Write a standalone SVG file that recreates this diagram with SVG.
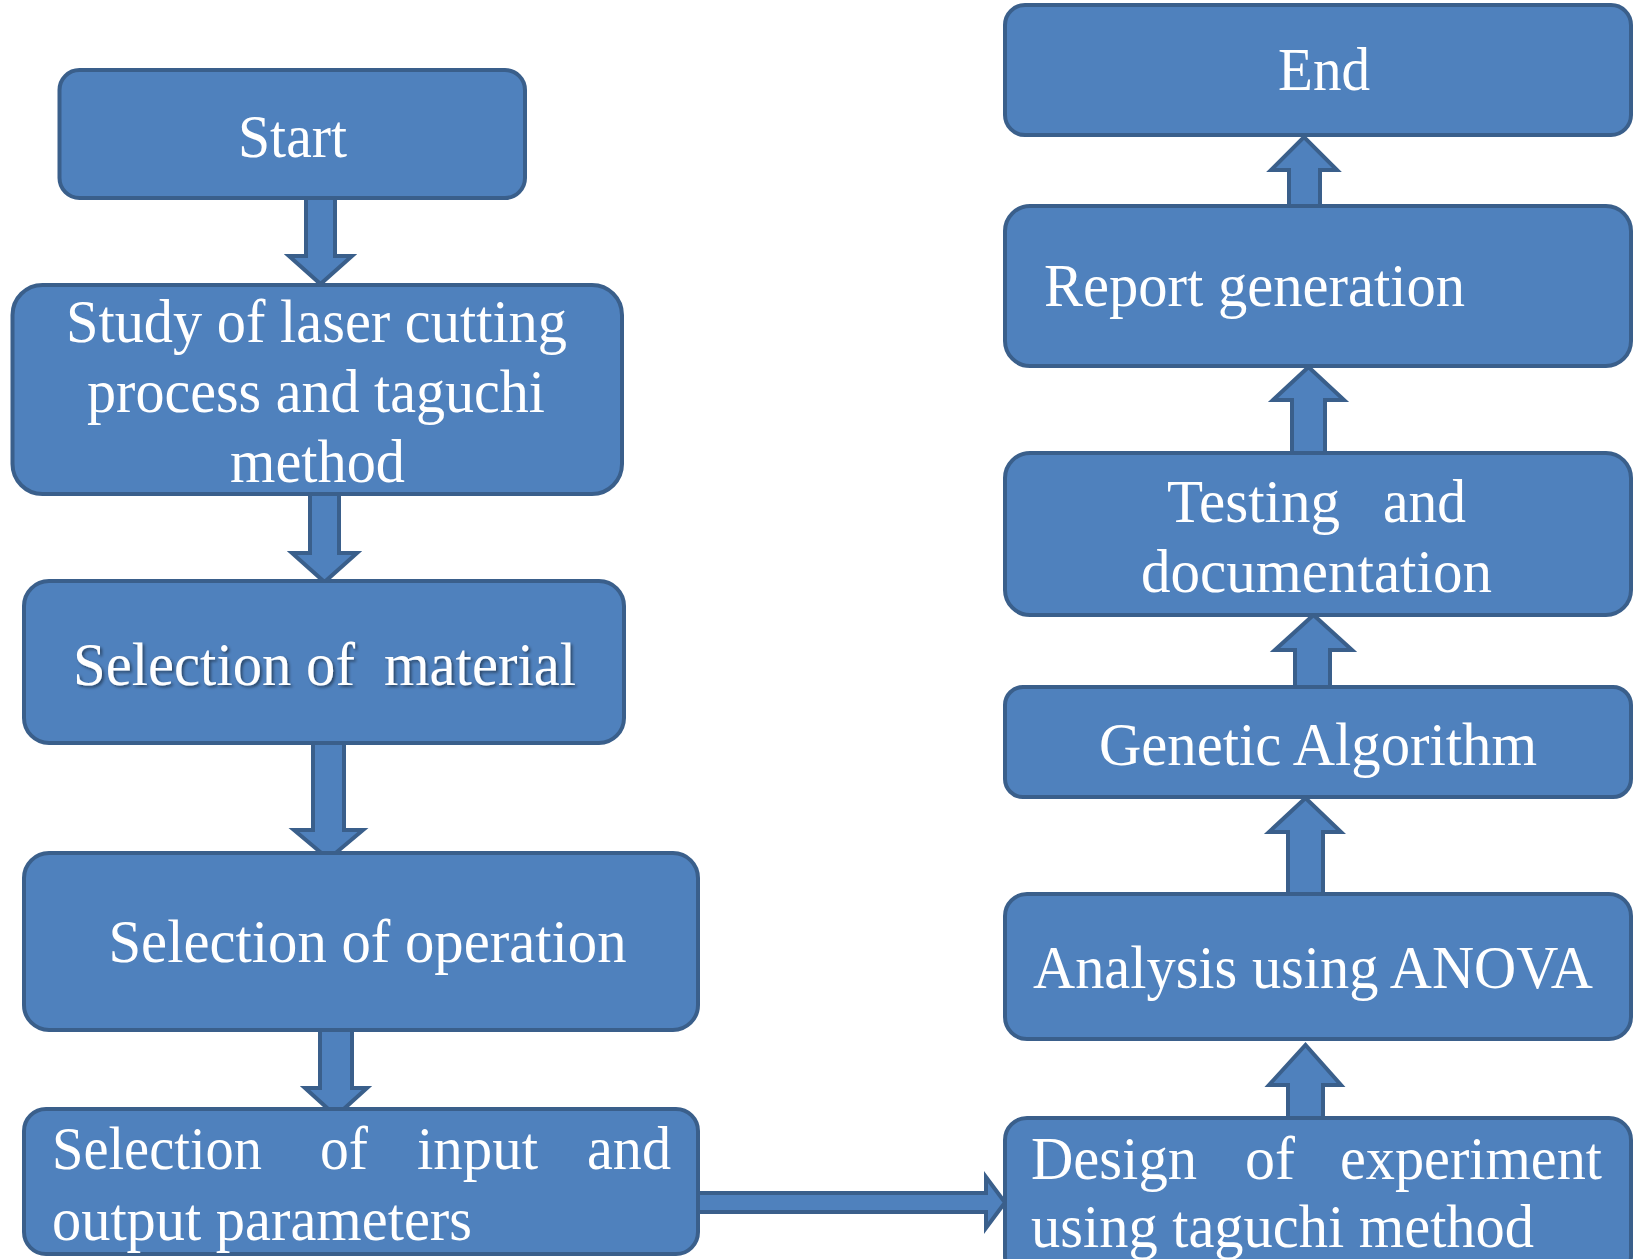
<svg xmlns="http://www.w3.org/2000/svg" width="1636" height="1259" viewBox="0 0 1636 1259">
<defs>
<style>
.box{fill:#4F81BD;stroke:#3A5F8B;stroke-width:4}
.arr{fill:#4F81BD;stroke:#3A5F8B;stroke-width:4;stroke-linejoin:miter}
.t{font-family:"Liberation Serif","Times New Roman",serif;font-size:61px;fill:#FFFFFF}
</style>
<filter id="sh" x="-5%" y="-20%" width="110%" height="140%">
<feDropShadow dx="2" dy="2" stdDeviation="1.5" flood-color="#000" flood-opacity="0.45"/>
</filter>
</defs>
<rect width="1636" height="1259" fill="#FFFFFF"/>

<g id="connectors">
<path class="arr" d="M306,198 L335,198 L335,256 L352,256 L320.5,284 L289,256 L306,256 Z"/>
<path class="arr" d="M310,494 L339,494 L339,553 L357,553 L324.5,582 L292,553 L310,553 Z"/>
<path class="arr" d="M313,743 L344,743 L344,830 L363,830 L328.5,859 L294,830 L313,830 Z"/>
<path class="arr" d="M320,1030 L352,1030 L352,1088 L367,1088 L336,1116 L305,1088 L320,1088 Z"/>
<path class="arr" d="M698,1193 L986,1193 L986,1177 L1005,1202.5 L986,1228 L986,1212 L698,1212 Z"/>
<path class="arr" d="M1288,1118 L1323,1118 L1323,1085 L1341,1085 L1305.5,1045 L1269,1085 L1288,1085 Z"/>
<path class="arr" d="M1288,894 L1323,894 L1323,832 L1341,832 L1305.5,798 L1269,832 L1288,832 Z"/>
<path class="arr" d="M1295,687 L1330,687 L1330,650 L1352,650 L1313.5,615 L1275,650 L1295,650 Z"/>
<path class="arr" d="M1292,453 L1325,453 L1325,400 L1344,400 L1308.5,367 L1273,400 L1292,400 Z"/>
<path class="arr" d="M1289,211 L1320,211 L1320,170 L1337,170 L1304,137 L1271,170 L1289,170 Z"/>
</g>

<g id="start">
<rect class="box" x="59.5" y="70" width="465.5" height="128" rx="20"/>
<text class="t" x="238" y="157" textLength="109" lengthAdjust="spacingAndGlyphs">Start</text>
</g>

<g id="study">
<rect class="box" x="12.5" y="285" width="609.5" height="209" rx="30"/>
<text class="t" x="66" y="342" textLength="501" lengthAdjust="spacingAndGlyphs">Study of laser cutting</text>
<text class="t" x="87" y="412" textLength="458" lengthAdjust="spacingAndGlyphs">process and taguchi</text>
<text class="t" x="230" y="482" textLength="175" lengthAdjust="spacingAndGlyphs">method</text>
</g>

<g id="material">
<rect class="box" x="24" y="581" width="600" height="162" rx="25"/>
<text class="t" y="685" filter="url(#sh)"><tspan x="73" textLength="282" lengthAdjust="spacingAndGlyphs">Selection of</tspan><tspan x="384" textLength="192" lengthAdjust="spacingAndGlyphs">material</tspan></text>
</g>

<g id="operation">
<rect class="box" x="24" y="853" width="674" height="177" rx="25"/>
<text class="t" x="108.5" y="962" textLength="518" lengthAdjust="spacingAndGlyphs">Selection of operation</text>
</g>

<g id="parameters">
<rect class="box" x="24" y="1109" width="674" height="145" rx="22"/>
<text class="t" y="1169"><tspan x="52" textLength="210" lengthAdjust="spacingAndGlyphs">Selection</tspan><tspan x="320" textLength="48" lengthAdjust="spacingAndGlyphs">of</tspan><tspan x="417" textLength="121" lengthAdjust="spacingAndGlyphs">input</tspan><tspan x="587" textLength="84" lengthAdjust="spacingAndGlyphs">and</tspan></text>
<text class="t" x="52" y="1240" textLength="420" lengthAdjust="spacingAndGlyphs">output parameters</text>
</g>

<g id="design">
<rect class="box" x="1005" y="1118" width="626" height="160" rx="22"/>
<text class="t" y="1179"><tspan x="1031" textLength="166" lengthAdjust="spacingAndGlyphs">Design</tspan><tspan x="1245" textLength="50" lengthAdjust="spacingAndGlyphs">of</tspan><tspan x="1340" textLength="262" lengthAdjust="spacingAndGlyphs">experiment</tspan></text>
<text class="t" x="1031" y="1247" textLength="503" lengthAdjust="spacingAndGlyphs">using taguchi method</text>
</g>

<g id="anova">
<rect class="box" x="1005" y="894" width="626" height="145" rx="22"/>
<text class="t" x="1033" y="988" textLength="560" lengthAdjust="spacingAndGlyphs">Analysis using ANOVA</text>
</g>

<g id="ga">
<rect class="box" x="1005" y="687" width="626" height="110" rx="18"/>
<text class="t" x="1099" y="765" textLength="438" lengthAdjust="spacingAndGlyphs">Genetic Algorithm</text>
</g>

<g id="testing">
<rect class="box" x="1005" y="453" width="626" height="162" rx="25"/>
<text class="t" y="522"><tspan x="1167" textLength="173" lengthAdjust="spacingAndGlyphs">Testing</tspan><tspan x="1383" textLength="83" lengthAdjust="spacingAndGlyphs">and</tspan></text>
<text class="t" x="1141" y="592" textLength="351" lengthAdjust="spacingAndGlyphs">documentation</text>
</g>

<g id="report">
<rect class="box" x="1005" y="206" width="626" height="160" rx="25"/>
<text class="t" x="1044" y="306" textLength="421" lengthAdjust="spacingAndGlyphs">Report generation</text>
</g>

<g id="end">
<rect class="box" x="1005" y="5" width="626" height="130" rx="20"/>
<text class="t" x="1278" y="90" textLength="92" lengthAdjust="spacingAndGlyphs">End</text>
</g>
</svg>
